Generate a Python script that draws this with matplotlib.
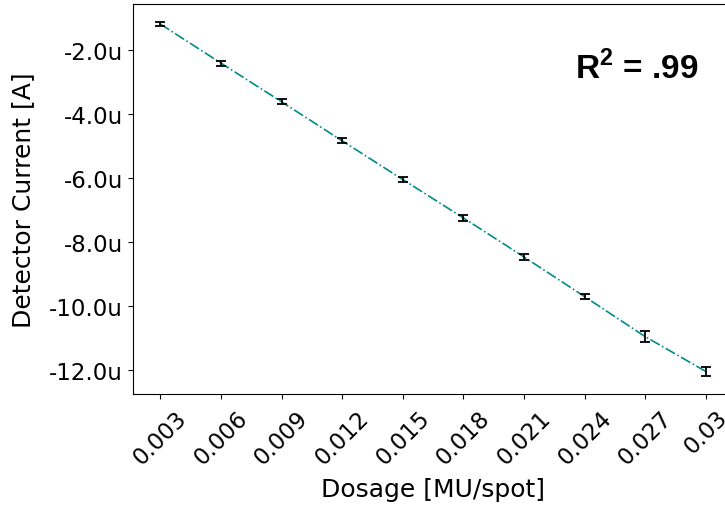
import matplotlib
matplotlib.use("Agg")
import matplotlib.pyplot as plt
from matplotlib.ticker import FuncFormatter

# dose per spot and measured detector current (in A)
dosage = [0.003, 0.006, 0.009, 0.012, 0.015, 0.018, 0.021, 0.024, 0.027, 0.030]
current = [-1.18e-6, -2.40e-6, -3.61e-6, -4.83e-6, -6.04e-6,
           -7.24e-6, -8.46e-6, -9.70e-6, -10.95e-6, -12.04e-6]
current_err = [0.07e-6, 0.08e-6, 0.08e-6, 0.08e-6, 0.08e-6,
               0.09e-6, 0.09e-6, 0.08e-6, 0.17e-6, 0.15e-6]
xtick_labels = ["0.003", "0.006", "0.009", "0.012", "0.015",
                "0.018", "0.021", "0.024", "0.027", "0.03"]
r2_text = r"R$^{\mathbf{2}}$ = .99"

plt.rcParams["mathtext.fontset"] = "custom"
plt.rcParams["mathtext.bf"] = "Liberation Sans:bold"
plt.rcParams["mathtext.rm"] = "Liberation Sans"

fig = plt.figure(figsize=(7.25, 5.06), dpi=100)
ax = fig.add_axes([0.1834, 0.2194, 0.828, 0.771])

ax.plot(dosage, current, linestyle="-.", color="darkcyan", linewidth=1.2)
ax.errorbar(dosage, current, yerr=current_err, fmt="none", ecolor="black",
            elinewidth=1.3, capsize=3.6, capthick=1.3)

# labels run past the right edge on purpose, like the original crop
ax.set_xticks(dosage)
ax.set_xticklabels(xtick_labels, rotation=45, fontsize=16.5)
ax.tick_params(axis="x", pad=5)
ax.yaxis.set_major_formatter(FuncFormatter(lambda v, p: f"{v * 1e6:.1f}u"))
ax.set_yticks([-2e-6, -4e-6, -6e-6, -8e-6, -10e-6, -12e-6])
ax.tick_params(axis="y", labelsize=16.5)
ax.set_ylim(-12.74e-6, -0.55e-6)

ax.set_xlabel("Dosage [MU/spot]", fontsize=18, labelpad=6)
ax.set_ylabel("Detector Current [A]", fontsize=18, labelpad=10)

ax.text(0.737, 0.838, r2_text, transform=ax.transAxes, fontsize=24,
        fontweight="bold", family="Liberation Sans", va="center", ha="left")

fig.savefig("out.png", dpi=100)
